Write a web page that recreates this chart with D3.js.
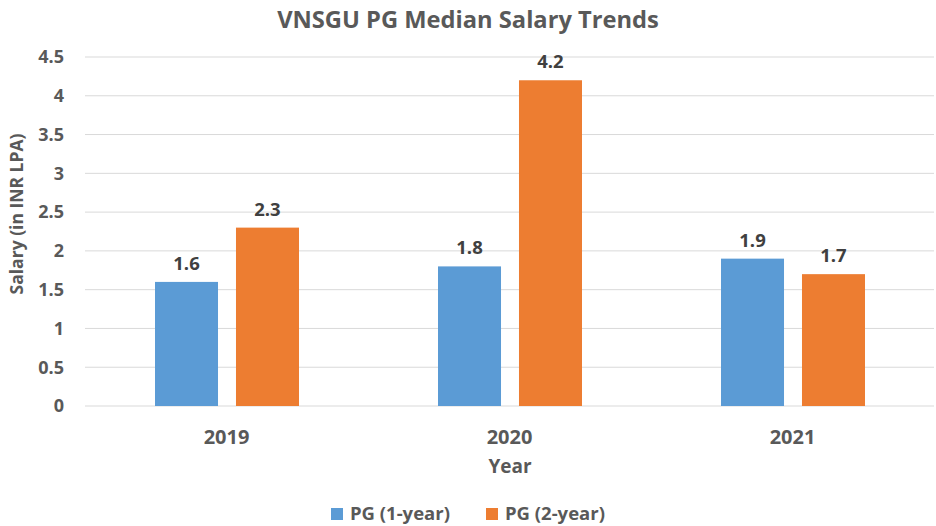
<!DOCTYPE html>
<html>
<head>
<meta charset="utf-8">
<script src="https://cdn.jsdelivr.net/npm/d3@7"></script>
<style>
  body { margin: 0; background: #fff; }
  text { font-family: 'Open Sans', Lato, sans-serif; }
</style>
</head>
<body>
<div id="chart"></div>
<script>
var years = ['2019', '2020', '2021']
var series_names = ['PG (1-year)', 'PG (2-year)']
var pg_1year = [1.6, 1.8, 1.9]
var pg_2year = [2.3, 4.2, 1.7]
var y_ticks = [0, 0.5, 1, 1.5, 2, 2.5, 3, 3.5, 4, 4.5]

var w = 936
var h = 526
var colors = ['#5b9bd5', '#ed7d31']
var series = [pg_1year, pg_2year]

var svg = d3.select('#chart').append('svg')
  .attr('width', w)
  .attr('height', h)

var plot_left = 85, plot_right = 934, plot_top = 57, plot_bottom = 406

var x = d3.scaleBand().domain(years).range([plot_left, plot_right])
// two bars per year, gap between them
var x_inner = d3.scaleBand().domain([0, 1]).range([70, x.bandwidth() - 69]).paddingInner(0.222)
var y = d3.scaleLinear().domain([0, 4.5]).range([plot_bottom, plot_top])

// gridlines
svg.append('g')
  .selectAll('line')
  .data(y_ticks)
  .enter().append('line')
  .attr('x1', plot_left)
  .attr('x2', plot_right)
  .attr('y1', function (d) { return y(d) })
  .attr('y2', function (d) { return y(d) })
  .attr('stroke', '#d9d9d9')
  .attr('stroke-width', 1)

// y tick labels
svg.append('g')
  .selectAll('text')
  .data(y_ticks)
  .enter().append('text')
  .text(function (d) { return d })
  .attr('x', 64)
  .attr('y', function (d) { return y(d) })
  .attr('dy', '0.35em')
  .attr('text-anchor', 'end')
  .attr('fill', '#595959')
  .style('font-weight', 'bold')
  .style('font-size', '18px')

// bars
series.forEach(function (vals, si) {
  var g = svg.append('g')
  g.selectAll('rect')
    .data(vals)
    .enter().append('rect')
    .attr('x', function (d, i) { return x(years[i]) + x_inner(si) })
    .attr('width', x_inner.bandwidth())
    .attr('y', function (d) { return y(d) })
    .attr('height', function (d) { return plot_bottom - y(d) })
    .attr('fill', colors[si])

  g.selectAll('text')
    .data(vals)
    .enter().append('text')
    .text(function (d) { return d })
    .attr('x', function (d, i) { return x(years[i]) + x_inner(si) + x_inner.bandwidth() / 2 })
    .attr('y', function (d) { return y(d) - 12 })
    .attr('text-anchor', 'middle')
    .attr('fill', '#404040')
    .style('font-weight', 'bold')
    .style('font-size', '18.5px')
})

// x labels
svg.append('g')
  .selectAll('text')
  .data(years)
  .enter().append('text')
  .text(function (d) { return d })
  .attr('x', function (d) { return x(d) + x.bandwidth() / 2 })
  .attr('y', 444)
  .attr('text-anchor', 'middle')
  .attr('fill', '#595959')
  .style('font-weight', 'bold')
  .style('font-size', '20px')

// axis titles
svg.append('text').text('Year')
  .attr('x', 510)
  .attr('y', 473)
  .attr('text-anchor', 'middle')
  .attr('fill', '#595959')
  .style('font-weight', 'bold')
  .style('font-size', '19px')

svg.append('text').text('Salary (in INR LPA)')
  .attr('transform', 'translate(23,214) rotate(-90)')
  .attr('text-anchor', 'middle')
  .attr('fill', '#595959')
  .style('font-weight', 'bold')
  .style('font-size', '17.5px')

// title
svg.append('text').text('VNSGU PG Median Salary Trends')
  .attr('x', 468)
  .attr('y', 28)
  .attr('text-anchor', 'middle')
  .attr('fill', '#595959')
  .style('font-weight', 'bold')
  .style('font-size', '23.7px')

// legend
var legend_x = [331, 486]
series_names.forEach(function (name, i) {
  var g = svg.append('g').attr('transform', 'translate(' + legend_x[i] + ',508)')
  g.append('rect')
    .attr('width', 12)
    .attr('height', 12)
    .attr('fill', colors[i])
  g.append('text').text(name)
    .attr('x', 19)
    .attr('y', 6)
    .attr('dy', '0.35em')
    .attr('fill', '#595959')
    .style('font-weight', 'bold')
    .style('font-size', '18.5px')
})
</script>
</body>
</html>
